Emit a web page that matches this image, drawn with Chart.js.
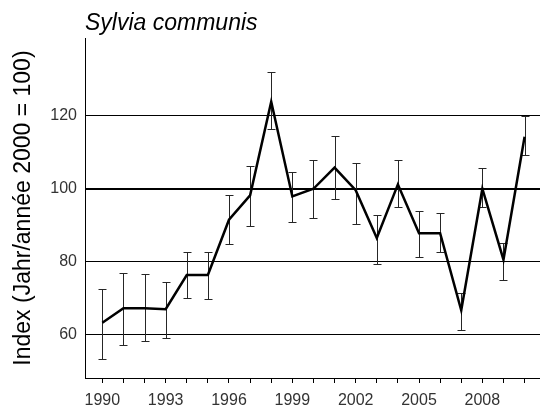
<!DOCTYPE html>
<html>
<head>
<meta charset="utf-8">
<script src="https://cdn.jsdelivr.net/npm/chart.js@4"></script>
<style>
  html, body { margin: 0; padding: 0; background: #fff; }
  #wrap { width: 540px; height: 407px; }
</style>
</head>
<body>
<div id="wrap"><canvas id="chart" width="540" height="407"></canvas></div>
<script>
// ---- Data ----
const years = [1990, 1991, 1992, 1993, 1994, 1995, 1996, 1997, 1998, 1999, 2000,
               2001, 2002, 2003, 2004, 2005, 2006, 2007, 2008, 2009, 2010];
const indexValues = [63.2, 67.2, 67.2, 66.9, 76.3, 76.3, 91.5, 98.2, 123.9, 97.9, 100.0,
                     105.8, 99.6, 86.5, 101.2, 87.8, 87.8, 66.6, 100.0, 80.5, 114.3];
const upperValues = [72.4, 76.8, 76.6, 74.5, 82.5, 82.5, 98.3, 106.2, 132.0, 104.6, 107.9,
                     114.5, 107.1, 92.7, 107.9, 94.0, 93.3, 71.3, 105.8, 85.1, 119.9];
const lowerValues = [53.2, 57.2, 58.1, 59.1, 70.1, 69.7, 84.8, 89.9, 116.4, 90.9, 91.9,
                     97.3, 90.3, 79.3, 95.1, 81.2, 82.6, 61.1, 95.0, 74.8, 109.2];
const yTicks = [60, 80, 100, 120];
const xLabelYears = [1990, 1993, 1996, 1999, 2002, 2005, 2008];

(function () {
  'use strict';

  const FONT = '"Liberation Sans", Arial, sans-serif';

  // ---- Error bars, drawn under the line ----
  const errorBars = {
    id: 'errorBars',
    beforeDatasetsDraw(chart) {
      const { ctx, scales: { x, y } } = chart;
      ctx.save();
      ctx.strokeStyle = '#262626';
      ctx.lineWidth = 1;
      years.forEach((yr, i) => {
        const px = Math.round(x.getPixelForValue(yr)) + 0.5;
        const top = Math.round(y.getPixelForValue(upperValues[i])) + 0.5;
        const bot = Math.round(y.getPixelForValue(lowerValues[i])) + 0.5;
        ctx.beginPath();
        ctx.moveTo(px, top); ctx.lineTo(px, bot);
        ctx.moveTo(px - 4, top); ctx.lineTo(px + 4, top);
        ctx.moveTo(px - 4, bot); ctx.lineTo(px + 4, bot);
        ctx.stroke();
      });
      ctx.restore();
    }
  };

  new Chart(document.getElementById('chart'), {
    type: 'line',
    data: {
      datasets: [{
        data: years.map((yr, i) => ({ x: yr, y: indexValues[i] })),
        borderColor: '#000',
        borderWidth: 2.5,
        pointRadius: 0,
        tension: 0,
        fill: false,
      }],
    },
    options: {
      responsive: false,
      animation: false,
      layout: { padding: 0 },
      plugins: {
        legend: { display: false },
        tooltip: { enabled: false },
        title: {
          display: true,
          text: 'Sylvia communis',
          align: 'start',
          fullSize: false,
          color: '#000',
          font: { family: FONT, size: 23, style: 'italic', weight: 'normal' },
          padding: { top: 9.5, bottom: 1 },
        },
      },
      scales: {
        x: {
          type: 'linear',
          min: 1989.18,
          max: 2010.73,
          afterBuildTicks: s => { s.ticks = years.map(v => ({ value: v })); },
          afterFit: s => { s.height = 29; },
          grid: { drawOnChartArea: false, drawTicks: true, tickLength: 5, color: '#000', tickColor: '#000' },
          border: { display: true, color: '#000', width: 1 },
          ticks: {
            autoSkip: false,
            maxRotation: 0,
            padding: 8,
            color: '#333',
            font: { family: FONT, size: 16 },
            callback: v => xLabelYears.includes(v) ? String(v) : '',
          },
        },
        y: {
          min: 48,
          max: 141.4,
          afterBuildTicks: s => { s.ticks = yTicks.map(v => ({ value: v })); },
          afterFit: s => { s.width = 85; },
          grid: {
            drawTicks: false,
            color: '#000',
            lineWidth: c => (c.tick && c.tick.value === 100 ? 2 : 1),
          },
          border: { display: true, color: '#000', width: 1 },
          ticks: {
            padding: 8,
            color: '#333',
            font: { family: FONT, size: 16 },
            callback: v => String(v),
          },
          title: {
            display: true,
            text: 'Index (Jahr/année 2000 = 100)',
            color: '#000',
            font: { family: FONT, size: 23 },
            padding: { top: 10, bottom: 0 },
          },
        },
      },
    },
    plugins: [errorBars],
  });
})();
</script>
</body>
</html>
